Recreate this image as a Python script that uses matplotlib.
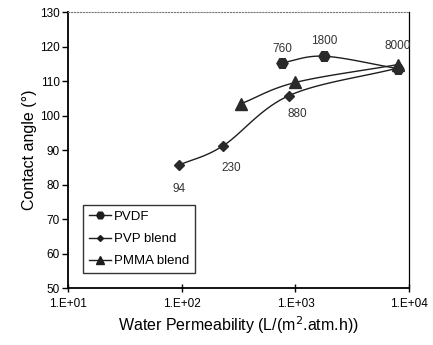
import numpy as np
import matplotlib
matplotlib.use('Agg')
import matplotlib.pyplot as plt

plt.rcParams['font.family'] = ['Liberation Sans', 'DejaVu Sans']

# data
pvdf_x = [760, 1800, 8000]
pvdf_y = [115.3, 117.2, 113.6]
pvp_x = [94, 230, 880, 8000]
pvp_y = [85.6, 91.2, 105.8, 113.8]
pmma_x = [330, 1000, 8000]
pmma_y = [103.4, 109.6, 114.8]

point_labels = ['760', '1800', '8000', '94', '230', '880']
label_x = [760, 1800, 8000, 94, 230, 880]
label_y = [115.3, 117.2, 113.6, 85.6, 91.2, 105.8]
label_off = [(0, 10), (0, 11), (0, 16), (0, -17), (6, -16), (6, -13)]


def smooth(x, y, n=30):
    # catmull-rom through the points in log-x space, like excel's smoothed line
    lx = np.log10(x)
    y = np.asarray(y, float)
    px = np.concatenate([[2 * lx[0] - lx[1]], lx, [2 * lx[-1] - lx[-2]]])
    py = np.concatenate([[2 * y[0] - y[1]], y, [2 * y[-1] - y[-2]]])
    outx, outy = [], []
    t = np.linspace(0, 1, n)
    for i in range(1, len(px) - 2):
        for arr, out in ((px, outx), (py, outy)):
            p0, p1, p2, p3 = arr[i - 1:i + 3]
            out.extend(0.5 * ((2 * p1) + (-p0 + p2) * t +
                              (2 * p0 - 5 * p1 + 4 * p2 - p3) * t ** 2 +
                              (-p0 + 3 * p1 - 3 * p2 + p3) * t ** 3))
    return 10 ** np.array(outx), np.array(outy)


fig = plt.figure(figsize=(4.33, 3.45), dpi=100)
ax = fig.add_axes([0.157, 0.165, 0.788, 0.8])

col = '#1e1e1e'
for xs, ys, m, ms, name in [(pvdf_x, pvdf_y, 'H', 8, 'PVDF'),
                            (pvp_x, pvp_y, 'D', 5.5, 'PVP blend'),
                            (pmma_x, pmma_y, '^', 8, 'PMMA blend')]:
    sx, sy = smooth(xs, ys)
    ax.plot(sx, sy, color=col, lw=1.0)
    ax.plot(xs, ys, linestyle='none', marker=m, ms=ms, color='#2a2a2a')
    ax.plot([], [], color=col, lw=1.0, marker=m, ms=ms - 2.5, label=name)

for t, x, y, off in zip(point_labels, label_x, label_y, label_off):
    ax.annotate(t, (x, y), xytext=off, textcoords='offset points',
                ha='center', va='center', fontsize=8.5, color='#333333')

ax.set_xscale('log')
ax.set_xlim(10, 10000)
ax.set_ylim(50, 130)
ax.set_xticks([10, 100, 1000, 10000])
ax.set_xticklabels(['1.E+01', '1.E+02', '1.E+03', '1.E+04'])
ax.minorticks_off()
ax.set_yticks(range(50, 131, 10))
ax.tick_params(axis='y', direction='out', length=4, width=1, labelsize=8.5, pad=2)
ax.tick_params(axis='x', direction='inout', length=6, width=1, labelsize=8.5, pad=4)

ax.spines['left'].set_linewidth(1.3)
ax.spines['bottom'].set_linewidth(1.3)
ax.spines['top'].set_linewidth(0.8)
ax.spines['top'].set_color('#777777')
ax.spines['top'].set_linestyle(':')
ax.spines['right'].set_linewidth(0.9)

ax.set_xlabel('Water Permeability (L/(m$^2$.atm.h))', fontsize=11.5, labelpad=3)
ax.set_ylabel('Contact angle (°)', fontsize=11.5, labelpad=2)

leg = ax.legend(loc='lower left', bbox_to_anchor=(0.025, 0.03), fontsize=9.5,
                frameon=True, fancybox=False, edgecolor='black',
                handlelength=1.7, handletextpad=0.2, borderpad=0.45,
                labelspacing=0.75)
leg.get_frame().set_linewidth(1.0)

fig.savefig('out.png', dpi=100)
